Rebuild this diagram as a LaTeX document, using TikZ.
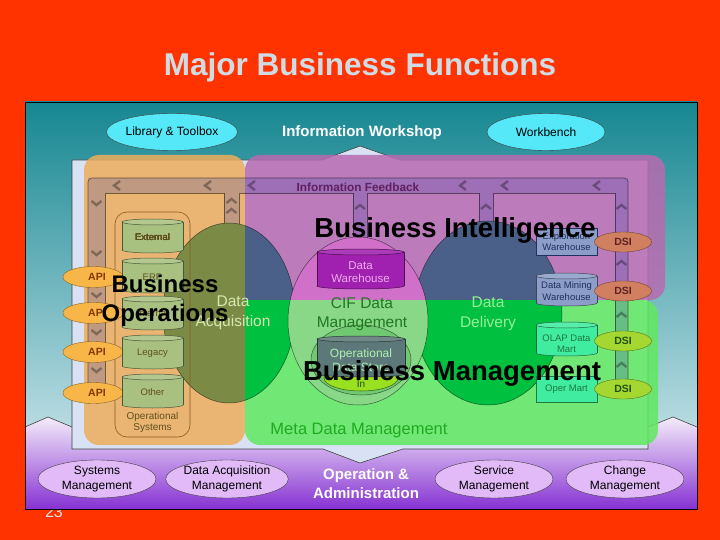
\documentclass[tikz,border=0pt]{standalone}
\usepackage{fontspec}
\setmainfont{Liberation Sans}
\usetikzlibrary{shapes.geometric}

\definecolor{slidered}{RGB}{255,51,0}
\definecolor{titlegray}{RGB}{208,220,228}
\definecolor{pagegray}{RGB}{225,225,225}
\definecolor{teal1}{RGB}{22,135,145}
\definecolor{teal2}{RGB}{205,230,236}
\definecolor{lav1}{RGB}{244,236,250}
\definecolor{lav2}{RGB}{206,176,242}
\definecolor{lav3}{RGB}{134,50,210}
\definecolor{marble}{RGB}{216,226,244}
\definecolor{opsorange}{RGB}{238,174,92}
\definecolor{bipurple}{RGB}{184,106,176}
\definecolor{bmgreen}{RGB}{96,232,96}
\definecolor{toolcyan}{RGB}{84,232,248}
\definecolor{mgmtlilac}{RGB}{226,186,248}
\definecolor{acqolive}{RGB}{123,139,69}
\definecolor{slate}{RGB}{74,96,136}
\definecolor{deepgreen}{RGB}{0,192,64}
\definecolor{cifpink}{RGB}{208,112,200}
\definecolor{cifgreen}{RGB}{136,216,136}
\definecolor{cifdark}{RGB}{112,200,112}
\definecolor{dwpurple}{RGB}{160,32,176}
\definecolor{odsgray}{RGB}{92,120,120}
\definecolor{odslime}{RGB}{152,224,32}
\definecolor{sage}{RGB}{168,192,128}
\definecolor{sagetext}{RGB}{96,80,32}
\definecolor{sysline}{RGB}{138,90,32}
\definecolor{apiorange}{RGB}{248,182,72}
\definecolor{apitext}{RGB}{128,56,0}
\definecolor{dsibrown}{RGB}{208,128,96}
\definecolor{dsilime}{RGB}{164,216,48}
\definecolor{dsibrowntext}{RGB}{96,32,32}
\definecolor{dsilimetext}{RGB}{32,80,16}
\definecolor{steel}{RGB}{140,158,200}
\definecolor{steeltext}{RGB}{32,48,96}
\definecolor{mint}{RGB}{64,236,160}
\definecolor{minttext}{RGB}{30,122,64}
\definecolor{acqtext}{RGB}{216,232,176}
\definecolor{ciftext}{RGB}{32,120,32}
\definecolor{deltext}{RGB}{150,240,150}
\definecolor{dwtext}{RGB}{240,170,240}
\definecolor{odstext}{RGB}{176,240,176}
\definecolor{metagreen}{RGB}{32,170,32}
\definecolor{fbtext}{RGB}{96,32,96}

\tikzset{
  toolbox/.style={ellipse, draw=black!75, fill=toolcyan, minimum width=118pt, minimum height=37pt, inner sep=0pt, font=\fontsize{12}{14}\selectfont},
  mgmtbox/.style={ellipse, draw=black!75, fill=mgmtlilac, minimum width=118pt, minimum height=38pt, inner sep=0pt, align=center, font=\fontsize{12}{15}\selectfont},
  apioval/.style={ellipse, draw=apiorange!55!black, fill=apiorange, minimum width=60pt, minimum height=21pt, inner sep=0pt, text=apitext, font=\fontsize{10.5}{12}\selectfont\bfseries},
  dsioval/.style={ellipse, minimum width=57pt, minimum height=20pt, inner sep=0pt, font=\fontsize{10.5}{12}\selectfont\bfseries},
  storebox/.style={rectangle, draw=steeltext, minimum width=61pt, minimum height=27pt, inner sep=0pt, align=center, font=\fontsize{9.5}{11.5}\selectfont},
  storelabel/.style={align=center, inner sep=0pt, font=\fontsize{9.5}{11.5}\selectfont},
  areatitle/.style={anchor=base, font=\fontsize{27.5}{30}\selectfont\bfseries},
  flowlabel/.style={align=center, inner sep=0pt, font=\fontsize{15.5}{19.5}\selectfont},
  feedback/.style={fill=blue!35!gray, fill opacity=.28},
  feedline/.style={draw=black, draw opacity=.5, line width=.6pt},
  chevron/.style={draw=black, draw opacity=.32, line width=2.4pt},
  ovalline/.style={draw=black, draw opacity=.55, line width=.5pt},
  edgeline/.style={draw=black!75, line width=.6pt},
}

\newcommand{\datacan}[5]{%
  \filldraw[fill=#5, draw=#5!45!black, line width=.5pt] ({(#1+#2)/2},#4) ellipse [x radius={(#2-#1)/2}, y radius=3];
  \fill[#5] (#1,#3) rectangle (#2,#4);
  \draw[#5!45!black, line width=.5pt] (#1,#3) -- (#1,#4) (#2,#3) -- (#2,#4);
  \filldraw[fill=#5!88!white, draw=#5!45!black, line width=.5pt] ({(#1+#2)/2},#3) ellipse [x radius={(#2-#1)/2}, y radius=3];
}

\begin{document}
\begin{tikzpicture}[x=1pt,y=-1pt]
\useasboundingbox (0,0) rectangle (720,540);
\fill[slidered] (0,0) rectangle (720,540);
\node[anchor=base, text=pagegray, font=\fontsize{16}{18}\selectfont] (pagenum) at (54,517) {23};
\node[anchor=base, text=titlegray, font=\fontsize{31.5}{34}\selectfont\bfseries] (title) at (360,76) {Major Business Functions};

\shade[top color=teal1, bottom color=teal2] (25,102) rectangle (697,470);
\shade[top color=lav1, middle color=lav2, bottom color=lav3] (25,427) -- (48,417) -- (72,427) -- (72,449) -- (323,449) -- (360,463) -- (403,449) -- (648,449) -- (648,427) -- (673,417) -- (697,427) -- (697,509) -- (25,509) -- cycle;
\draw[edgeline] (25,427) -- (48,417) -- (72,427) (648,427) -- (673,417) -- (697,427);
\filldraw[fill=marble, edgeline] (72,160) -- (322,160) -- (360,146) -- (400,160) -- (648,160) -- (648,449) -- (403,449) -- (360,463) -- (323,449) -- (72,449) -- cycle;

\fill[opsorange, opacity=.85, rounded corners=15pt] (84,155) rectangle (245,445);
\fill[bipurple, opacity=.85, rounded corners=15pt] (245,155) rectangle (665,300);
\fill[bmgreen, opacity=.85, rounded corners=15pt] (245,300) rectangle (658,445);

\fill[feedback] (88,178) rectangle (628,193) (88,193) rectangle (105,400) (615,193) rectangle (628,395)
  (224,193) rectangle (239,260) (353,193) rectangle (367,260) (479,193) rectangle (493,260);
\draw[feedline, rounded corners=4pt] (88,400) -- (88,178) -- (628,178) -- (628,395);
\draw[feedline] (88,400) -- (105,400) -- (105,193) -- (224,193) -- (224,260)
  (239,260) -- (239,193) -- (353,193) -- (353,260)
  (367,260) -- (367,193) -- (479,193) -- (479,260)
  (493,260) -- (493,193) -- (615,193) -- (615,395) -- (628,395);
\foreach \x in {117,208,252,463,505,597}
  \draw[chevron] (\x+3,181) -- (\x-3,185.5) -- (\x+3,190);
\foreach \y in {203,253,295,332,370}
  \draw[chevron] (91.5,\y-2) -- (96.5,\y+2) -- (101.5,\y-2);
\foreach \y in {207,263,315,365}
  \draw[chevron] (616.5,\y+2) -- (621.5,\y-2) -- (626.5,\y+2);
\foreach \x in {360,486}
  \draw[chevron] (\x-5,209) -- (\x,205) -- (\x+5,209);
\foreach \y in {201,211}
  \draw[chevron] (226.5,\y+2) -- (231.5,\y-2) -- (236.5,\y+2);
\node[anchor=base, text=fbtext, font=\fontsize{11.8}{14}\selectfont\bfseries] (feedbk) at (358,192) {Information Feedback};

\begin{scope}
  \clip (0,0) rectangle (245,540);
  \fill[acqolive] (229,313) ellipse [x radius=66, y radius=90];
\end{scope}
\begin{scope}
  \clip (245,0) rectangle (720,300);
  \fill[slate] (229,313) ellipse [x radius=66, y radius=90] (488,313) ellipse [x radius=74, y radius=92];
\end{scope}
\begin{scope}
  \clip (245,300) rectangle (720,540);
  \fill[deepgreen] (229,313) ellipse [x radius=66, y radius=90] (488,313) ellipse [x radius=74, y radius=92];
\end{scope}
\draw[ovalline] (229,313) ellipse [x radius=66, y radius=90] (488,313) ellipse [x radius=74, y radius=92];
\begin{scope}
  \clip (0,0) rectangle (720,300);
  \fill[cifpink] (358,321) ellipse [x radius=70, y radius=84];
\end{scope}
\begin{scope}
  \clip (0,300) rectangle (720,540);
  \fill[cifgreen] (358,321) ellipse [x radius=70, y radius=84];
  \filldraw[fill=cifdark, ovalline] (361,360) ellipse [x radius=50, y radius=35];
\end{scope}
\draw[ovalline] (358,321) ellipse [x radius=70, y radius=84];

\draw[sysline, line width=.6pt, rounded corners=12pt] (115,212) rectangle (190,437);
\foreach \y [count=\i] in {277,313,352,393}
  \node[apioval] (api\i) at (93,\y) {\hspace{8pt}API};
\foreach \ya/\yb in {222/250,261/290,299/327,338/366,377/405}
  \datacan{122}{183}{\ya}{\yb}{sage}
\node[storelabel, text=sagetext] (external) at (152.5,237.5) {External};
\node[storelabel, text=sagetext] (erp) at (152.5,277.5) {ERP};
\node[storelabel, text=sagetext] (internal) at (152.5,313.5) {Internal};
\node[storelabel, text=sagetext] (legacy) at (152.5,353.5) {Legacy};
\node[storelabel, text=sagetext] (other) at (152.5,392.5) {Other};
\node[storelabel, text=sagetext, font=\fontsize{10}{11.5}\selectfont] (opsys) at (152.5,422.5) {Operational\\Systems};

\datacan{317}{404}{252}{286}{dwpurple}
\node[storelabel, text=dwtext, font=\fontsize{11.5}{13}\selectfont] (dw) at (360.5,272) {Data\\Warehouse};
\filldraw[fill=odslime, ovalline] (361,378) ellipse [x radius=37, y radius=13];
\node[storelabel, text=dsilimetext, font=\fontsize{10}{12}\selectfont] (integ) at (361,384) {In};
\datacan{317}{405}{339}{374}{odsgray}
\node[storelabel, text=odstext, font=\fontsize{12}{14}\selectfont] (ods) at (361,360) {Operational\\Data Store};

\node[storebox, fill=steel, text=steeltext] (explore) at (566.5,241.5) {Exploration\\Warehouse};
\datacan{536}{597}{276}{303}{steel}
\node[storelabel, text=steeltext] (mining) at (566.5,291) {Data Mining\\Warehouse};
\datacan{536}{597}{325}{353}{mint}
\node[storelabel, text=minttext] (olap) at (566.5,343.5) {OLAP Data\\Mart};
\node[storebox, fill=mint, draw=minttext, text=minttext, minimum height=26pt] (opermart) at (566.5,389.5) {Oper Mart};
\foreach \y/\fc/\tc [count=\i] in {242/dsibrown/dsibrowntext,291/dsibrown/dsibrowntext,341/dsilime/dsilimetext,389/dsilime/dsilimetext}
  \node[dsioval, fill=\fc, draw=\fc!55!black, text=\tc] (dsi\i) at (623,\y) {DSI};

\node[flowlabel, text=acqtext] (acq) at (233,313) {Data\\Acquisition};
\node[flowlabel, text=ciftext] (cif) at (362,314) {CIF Data\\Management};
\node[flowlabel, text=deltext] (delivery) at (488,314) {Data\\Delivery};
\node[anchor=base, text=metagreen, font=\fontsize{16.5}{19}\selectfont] (meta) at (359,434) {Meta Data Management};

\node[align=center, font=\fontsize{24}{29}\selectfont\bfseries] (bizops) at (165,301) {Business\\Operations};
\node[areatitle] (bizintel) at (455,237) {Business Intelligence};
\node[areatitle] (bizmgmt) at (452,380) {Business Management};

\node[toolbox] (library) at (172,132) {Library \& Toolbox};
\node[anchor=base, text=white, font=\fontsize{15}{18}\selectfont\bfseries] (workshop) at (362,137) {Information Workshop};
\node[toolbox] (workbench) at (546,132) {Workbench};

\node[mgmtbox] (sysmgmt) at (97,479) {Systems\\Management};
\node[mgmtbox] (acqmgmt) at (227,479) {Data Acquisition\\Management};
\node[text=white, align=center, inner sep=0pt, font=\fontsize{15}{19}\selectfont\bfseries] (opadmin) at (366,484) {Operation \&\\Administration};
\node[mgmtbox] (svcmgmt) at (494,479) {Service\\Management};
\node[mgmtbox] (chgmgmt) at (625,479) {Change\\Management};

\draw[black, line width=.8pt] (25,102) rectangle (697,509);
\end{tikzpicture}
\end{document}
